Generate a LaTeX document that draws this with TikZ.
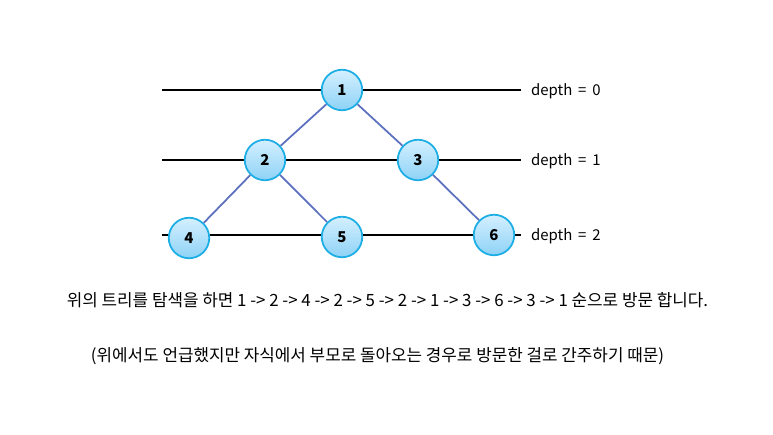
\documentclass[tikz,border=0pt]{standalone}
\usepackage{fontspec}
\setmainfont{Noto Sans CJK KR}
\usetikzlibrary{positioning}
\definecolor{ndline}{HTML}{1EAEE6}
\definecolor{ndtop}{HTML}{D4F0FF}
\definecolor{ndbot}{HTML}{8ED2F6}
\definecolor{edge}{HTML}{5B70BE}

\begin{document}
\begin{tikzpicture}[font=\fontsize{9.6}{11}\selectfont,
   nd/.style={circle,draw=ndline,line width=1pt,top color=ndtop,bottom color=ndbot,
     minimum size=8.1mm,inner sep=0pt,font=\fontsize{8.5}{9}\selectfont\bfseries},
   lvl/.style={line width=1pt,black},
   dp/.style={anchor=west,font=\fontsize{8.5}{10}\selectfont},
   tr/.style={line width=1pt,edge}]
  \useasboundingbox (0,0) rectangle (15.46,-8.7);
  % depth lines
  \coordinate (l0) at (3.24,-1.8);  \coordinate (r0) at (10.42,-1.8);
  \coordinate (l1) at (3.24,-3.2);  \coordinate (r1) at (10.42,-3.2);
  \coordinate (l2) at (3.24,-4.7);  \coordinate (r2) at (10.42,-4.7);
  \draw[lvl] (l0)--(r0); \draw[lvl] (l1)--(r1); \draw[lvl] (l2)--(r2);
  \node[dp] (d0) at (10.5,-1.82) {depth \,=\, 0};
  \node[dp] (d1) at (10.5,-3.22) {depth \,=\, 1};
  \node[dp] (d2) at (10.5,-4.72) {depth \,=\, 2};
  % tree
  \node[nd] (n1) at (6.84,-1.8) {1};
  \node[nd] (n2) at (5.3,-3.2) {2};
  \node[nd] (n3) at (8.36,-3.2) {3};
  \node[nd] (n4) at (3.78,-4.76) {4};
  \node[nd] (n5) at (6.84,-4.74) {5};
  \node[nd] (n6) at (9.88,-4.7) {6};
  \foreach \a/\b in {n1/n2,n1/n3,n2/n4,n2/n5,n3/n6} \draw[tr] (\a)--(\b);
  % text
  \node (t1) at (7.75,-6.0) {위의 트리를 탐색을 하면 1 -> 2 -> 4 -> 2 -> 5 -> 2 -> 1 -> 3 -> 6 -> 3 -> 1 순으로 방문 합니다.};
  \node (t2) at (7.55,-7.13) {(위에서도 언급했지만 자식에서 부모로 돌아오는 경우로 방문한 걸로 간주하기 때문)};
\end{tikzpicture}
\end{document}
